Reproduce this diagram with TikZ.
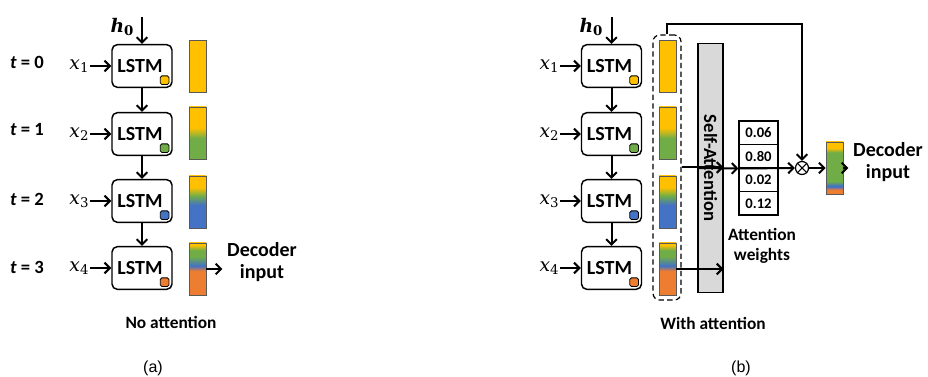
\documentclass[tikz,border=0pt]{standalone}
\usepackage{fontspec}
\setmainfont{Carlito}
\newfontfamily\capfont{Liberation Sans}
\newfontfamily\varfont{DejaVu Serif}
\usetikzlibrary{arrows.meta}

\definecolor{barYellow}{HTML}{FFC000}
\definecolor{barGreen}{HTML}{70AD47}
\definecolor{barBlue}{HTML}{4472C4}
\definecolor{barOrange}{HTML}{ED7D31}
\definecolor{saGray}{HTML}{D9D9D9}

% Vertical shadings for the hidden-state bars (bottom = 25bp, top = 75bp)
\pgfdeclareverticalshading{barTwo}{100bp}{color(0bp)=(barGreen); color(45bp)=(barGreen); color(55bp)=(barYellow); color(100bp)=(barYellow)}
\pgfdeclareverticalshading{barThree}{100bp}{color(0bp)=(barBlue); color(47bp)=(barBlue); color(56bp)=(barGreen); color(64bp)=(barYellow); color(100bp)=(barYellow)}
\pgfdeclareverticalshading{barFour}{100bp}{color(0bp)=(barOrange); color(48bp)=(barOrange); color(53bp)=(barBlue); color(62bp)=(barGreen); color(68bp)=(barGreen); color(73bp)=(barYellow); color(100bp)=(barYellow)}
\pgfdeclareverticalshading{barOut}{100bp}{color(0bp)=(barOrange); color(29bp)=(barOrange); color(32bp)=(barBlue); color(33bp)=(barBlue); color(37bp)=(barGreen); color(65bp)=(barGreen); color(69bp)=(barYellow); color(100bp)=(barYellow)}

% Input variable, e.g. \invec{x}{1}
\newcommand{\invec}[2]{{\varfont\itshape #1}{\varfont\fontsize{10}{12}\selectfont\raisebox{-2.5pt}{#2}}}

\tikzset{
  lstm/.style={draw, line width=1.1pt, rounded corners=4pt, minimum width=45pt, minimum height=32pt, fill=white, font=\bfseries\fontsize{15}{17}\selectfont},
  cell/.style={draw, line width=0.6pt, rounded corners=1.2pt, minimum size=6.5pt, inner sep=0pt},
  bar/.style={draw=black!65, line width=0.5pt, minimum width=12.75pt, minimum height=39pt, inner sep=0pt},
  wcell/.style={draw, line width=0.8pt, minimum width=29.25pt, minimum height=17.6pt, inner sep=0pt, font=\bfseries\fontsize{11}{13}\selectfont},
  arr/.style={line width=1.5pt, -{Straight Barb[length=4pt,width=8pt]}},
  lbl/.style={font=\bfseries\fontsize{13}{15}\selectfont, align=center},
  tlbl/.style={font=\bfseries\fontsize{14}{16}\selectfont},
  invar/.style={font=\fontsize{14}{16}\selectfont, inner sep=1pt},
}

\begin{document}
\begin{tikzpicture}[x=0.75pt, y=-0.75pt]
    \useasboundingbox (0,0) rectangle (928,377);

    % ---------- (a) No attention ----------
    % Time step labels
    \node[tlbl] (t0) at (27,62) {\textit{t} = 0};
    \node[tlbl] (t1) at (27,130) {\textit{t} = 1};
    \node[tlbl] (t2) at (27,199) {\textit{t} = 2};
    \node[tlbl] (t3) at (27,267) {\textit{t} = 3};

    % LSTM cells
    \node[lstm] (la1) at (142,66) {\hspace*{-3pt}LSTM};
    \node[lstm] (la2) at (142,134) {\hspace*{-3pt}LSTM};
    \node[lstm] (la3) at (142,201) {\hspace*{-3pt}LSTM};
    \node[lstm] (la4) at (142,268) {\hspace*{-3pt}LSTM};
    \node[cell, fill=barYellow] (ca1) at ([xshift=-6.1pt,yshift=5.9pt]la1.south east) {};
    \node[cell, fill=barGreen] (ca2) at ([xshift=-6.1pt,yshift=5.9pt]la2.south east) {};
    \node[cell, fill=barBlue] (ca3) at ([xshift=-6.1pt,yshift=5.9pt]la3.south east) {};
    \node[cell, fill=barOrange] (ca4) at ([xshift=-6.1pt,yshift=5.9pt]la4.south east) {};

    % Inputs
    \node[invar] (ha) at (122,27) {{\bfseries\invec{h}{0}}};
    \coordinate (hta) at (142,17);
    \node[invar] (xa1) at (79,66) {\invec{x}{1}};
    \node[invar] (xa2) at (79,134) {\invec{x}{2}};
    \node[invar] (xa3) at (79,201) {\invec{x}{3}};
    \node[invar] (xa4) at (79,268) {\invec{x}{4}};

    % Hidden state bars
    \node[bar, fill=barYellow] (ba1) at (197.5,66) {};
    \node[bar, shading=barTwo] (ba2) at (197.5,133) {};
    \node[bar, shading=barThree] (ba3) at (197.5,202) {};
    \node[bar, shading=barFour] (ba4) at (197.5,269) {};

    % Arrows
    \draw[arr] (hta) -- (la1.north);
    \draw[arr] (la1) -- (la2);
    \draw[arr] (la2) -- (la3);
    \draw[arr] (la3) -- (la4);
    \draw[arr] (xa1) -- (la1);
    \draw[arr] (xa2) -- (la2);
    \draw[arr] (xa3) -- (la3);
    \draw[arr] (xa4) -- (la4);

    \node[lbl, font=\bfseries\fontsize{15}{17}\selectfont] (deca) at (262,262) {Decoder\\input};
    \draw[arr] (ba4.east) -- (ba4.east -| deca.west);

    \node[lbl] (capa) at (171,322) {No attention};
    \node[font=\capfont\fontsize{12}{14}\selectfont] (suba) at (153,368) {(a)};

    % ---------- (b) With attention ----------
    % LSTM cells
    \node[lstm] (lb1) at (611.5,66) {\hspace*{-3pt}LSTM};
    \node[lstm] (lb2) at (611.5,134) {\hspace*{-3pt}LSTM};
    \node[lstm] (lb3) at (611.5,201) {\hspace*{-3pt}LSTM};
    \node[lstm] (lb4) at (611.5,268) {\hspace*{-3pt}LSTM};
    \node[cell, fill=barYellow] (cb1) at ([xshift=-6.1pt,yshift=5.9pt]lb1.south east) {};
    \node[cell, fill=barGreen] (cb2) at ([xshift=-6.1pt,yshift=5.9pt]lb2.south east) {};
    \node[cell, fill=barBlue] (cb3) at ([xshift=-6.1pt,yshift=5.9pt]lb3.south east) {};
    \node[cell, fill=barOrange] (cb4) at ([xshift=-6.1pt,yshift=5.9pt]lb4.south east) {};

    % Inputs
    \node[invar] (hb) at (591,27) {{\bfseries\invec{h}{0}}};
    \coordinate (htb) at (611.5,17);
    \node[invar] (xb1) at (549,66) {\invec{x}{1}};
    \node[invar] (xb2) at (549,134) {\invec{x}{2}};
    \node[invar] (xb3) at (549,201) {\invec{x}{3}};
    \node[invar] (xb4) at (549,268) {\invec{x}{4}};

    % Hidden state bars, grouped
    \node[bar, fill=barYellow] (bb1) at (667.5,66) {};
    \node[bar, shading=barTwo] (bb2) at (667.5,133) {};
    \node[bar, shading=barThree] (bb3) at (667.5,202) {};
    \node[bar, shading=barFour] (bb4) at (667.5,269) {};
    \node[draw, dashed, dash pattern=on 4pt off 2.5pt, line width=0.9pt, rounded corners=5pt, minimum width=21pt, minimum height=198.75pt] (grp) at (667,167.5) {};

    % Self-attention block
    \node[draw, fill=saGray, line width=0.8pt, rotate=-90, minimum width=187pt, minimum height=18.75pt, inner sep=0pt, font=\bfseries\fontsize{14}{16}\selectfont] (sa) at (710.5,168) {Self-Attention};

    % Attention weights
    \node[wcell] (w1) at (758.5,132.75) {0.06};
    \node[wcell] (w2) at (758.5,156.25) {0.80};
    \node[wcell] (w3) at (758.5,179.75) {0.02};
    \node[wcell] (w4) at (758.5,203.25) {0.12};
    \node[lbl] (wlbl) at (762,246) {Attention\\weights};

    % Weighted sum and output
    \node[draw, circle, line width=0.9pt, minimum size=9.75pt, inner sep=0pt] (mul) at (802,168) {};
    \draw[line width=0.8pt] (mul.north west) -- (mul.south east) (mul.north east) -- (mul.south west);
    \node[bar, shading=barOut] (bout) at (834.5,168) {};
    \node[lbl, font=\bfseries\fontsize{15}{17}\selectfont] (decb) at (888,162) {Decoder\\input};
    \coordinate (fb) at (667,24);

    % Arrows
    \draw[arr] (htb) -- (lb1.north);
    \draw[arr] (lb1) -- (lb2);
    \draw[arr] (lb2) -- (lb3);
    \draw[arr] (lb3) -- (lb4);
    \draw[arr] (xb1) -- (lb1);
    \draw[arr] (xb2) -- (lb2);
    \draw[arr] (xb3) -- (lb3);
    \draw[arr] (xb4) -- (lb4);
    \draw[arr] (grp.east) -- (grp.east -| sa.north);
    \draw[arr] (bb4.east) -- (bb4.east -| sa.north);
    \draw[arr] (sa.south) -- (w2.south west);
    \draw[arr] (w2.south west) -- (mul.west);
    \draw[arr] (grp.north) -- (fb) -| (mul.north);
    \draw[arr] (mul.east) -- (bout.west);
    \draw[arr] (bout.east) -- (bout.east -| decb.west);

    \node[lbl] (capb) at (713,323) {With attention};
    \node[font=\capfont\fontsize{12}{14}\selectfont] (subb) at (741,368) {(b)};

\end{tikzpicture}
\end{document}
